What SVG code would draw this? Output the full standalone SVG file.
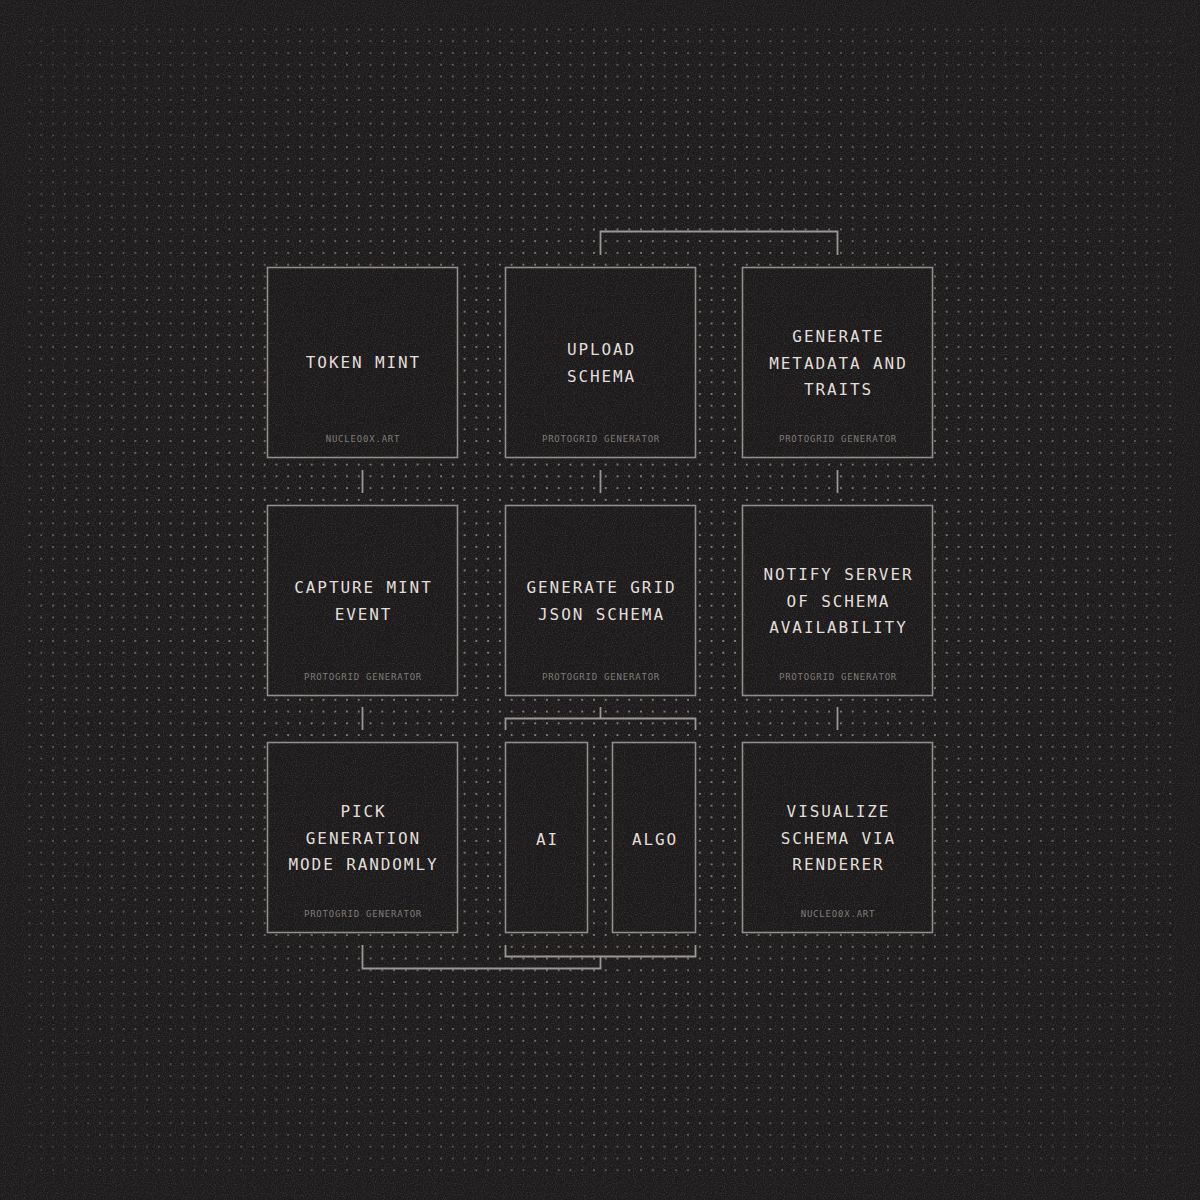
<svg xmlns="http://www.w3.org/2000/svg" width="1200" height="1200" viewBox="0 0 1200 1200">
<style>
.box{fill:#1c1a1a;stroke:#8f8c89;stroke-width:1.6}
.t{font-family:"DejaVu Sans Mono","Liberation Mono",monospace;font-size:16px;letter-spacing:1.9px;fill:#e2dfdc;text-anchor:middle}
.s{font-family:"DejaVu Sans Mono","Liberation Mono",monospace;font-size:9px;letter-spacing:0.8px;fill:#7c7976;text-anchor:middle}
.c{fill:none;stroke:#9a9693;stroke-width:1.8}
</style>
<defs>
<pattern id="dots" patternUnits="userSpaceOnUse" x="23.6" y="23.6" width="11.76" height="11.76">
<circle cx="5.88" cy="5.88" r="1" fill="#a29e9a"/>
</pattern>
<radialGradient id="vg" cx="600" cy="600" r="820" gradientUnits="userSpaceOnUse">
<stop offset="0" stop-color="#fff" stop-opacity="1"/>
<stop offset="0.45" stop-color="#fff" stop-opacity="0.85"/>
<stop offset="1" stop-color="#fff" stop-opacity="0.2"/>
</radialGradient>
<mask id="m"><rect x="0" y="0" width="1200" height="1200" fill="url(#vg)"/></mask>
<filter id="noise" x="0" y="0" width="100%" height="100%">
<feTurbulence type="fractalNoise" baseFrequency="0.9" numOctaves="1" seed="3" result="n"/>
<feColorMatrix type="matrix" values="0 0 0 0 0.62  0 0 0 0 0.61  0 0 0 0 0.6  1.2 0 0 0 -0.55"/>
</filter>
</defs>
<rect width="1200" height="1200" fill="#1d1b1b"/>
<rect x="20" y="20" width="1160" height="1160" fill="url(#dots)" mask="url(#m)"/>

<g id="connectors">
<path class="c" d="M600.5 255 V231.5 H837.5 V255"/>
<path class="c" d="M362.5 470 V493"/>
<path class="c" d="M600.5 470 V493"/>
<path class="c" d="M837.5 470 V493"/>
<path class="c" d="M362.5 707 V730"/>
<path class="c" d="M837.5 707 V730"/>
<path class="c" d="M600.5 707 V718.5 M505.5 730 V718.5 H695.5 V730"/>
<path class="c" d="M505.5 945 V956.5 H695.5 V945 M600.5 956.5 V968.5 H362.5 V945"/>
</g>

<g id="token-mint">
<rect class="box" x="267.5" y="267.5" width="190" height="190"/>
<text class="t" x="363.5" y="368">TOKEN MINT</text>
<text class="s" x="363" y="442">NUCLEO0X.ART</text>
</g>
<g id="upload-schema">
<rect class="box" x="505.5" y="267.5" width="190" height="190"/>
<text class="t" x="601.5" y="355">UPLOAD</text>
<text class="t" x="601.5" y="382">SCHEMA</text>
<text class="s" x="601" y="442">PROTOGRID GENERATOR</text>
</g>
<g id="generate-metadata">
<rect class="box" x="742.5" y="267.5" width="190" height="190"/>
<text class="t" x="838.5" y="342">GENERATE</text>
<text class="t" x="838.5" y="368.5">METADATA AND</text>
<text class="t" x="838.5" y="395">TRAITS</text>
<text class="s" x="838" y="442">PROTOGRID GENERATOR</text>
</g>
<g id="capture-mint">
<rect class="box" x="267.5" y="505.5" width="190" height="190"/>
<text class="t" x="363.5" y="593">CAPTURE MINT</text>
<text class="t" x="363.5" y="620">EVENT</text>
<text class="s" x="363" y="680">PROTOGRID GENERATOR</text>
</g>
<g id="generate-grid">
<rect class="box" x="505.5" y="505.5" width="190" height="190"/>
<text class="t" x="601.5" y="593">GENERATE GRID</text>
<text class="t" x="601.5" y="620">JSON SCHEMA</text>
<text class="s" x="601" y="680">PROTOGRID GENERATOR</text>
</g>
<g id="notify-server">
<rect class="box" x="742.5" y="505.5" width="190" height="190"/>
<text class="t" x="838.5" y="580">NOTIFY SERVER</text>
<text class="t" x="838.5" y="606.5">OF SCHEMA</text>
<text class="t" x="838.5" y="633">AVAILABILITY</text>
<text class="s" x="838" y="680">PROTOGRID GENERATOR</text>
</g>
<g id="pick-mode">
<rect class="box" x="267.5" y="742.5" width="190" height="190"/>
<text class="t" x="363.5" y="817">PICK</text>
<text class="t" x="363.5" y="843.5">GENERATION</text>
<text class="t" x="363.5" y="870">MODE RANDOMLY</text>
<text class="s" x="363" y="917">PROTOGRID GENERATOR</text>
</g>
<g id="ai">
<rect class="box" x="505.5" y="742.5" width="82" height="190"/>
<text class="t" x="547.5" y="845">AI</text>
</g>
<g id="algo">
<rect class="box" x="612.5" y="742.5" width="83" height="190"/>
<text class="t" x="655" y="845">ALGO</text>
</g>
<g id="visualize">
<rect class="box" x="742.5" y="742.5" width="190" height="190"/>
<text class="t" x="838.5" y="817">VISUALIZE</text>
<text class="t" x="838.5" y="843.5">SCHEMA VIA</text>
<text class="t" x="838.5" y="870">RENDERER</text>
<text class="s" x="838" y="917">NUCLEO0X.ART</text>
</g>
<rect width="1200" height="1200" filter="url(#noise)" opacity="0.35"/>
</svg>
